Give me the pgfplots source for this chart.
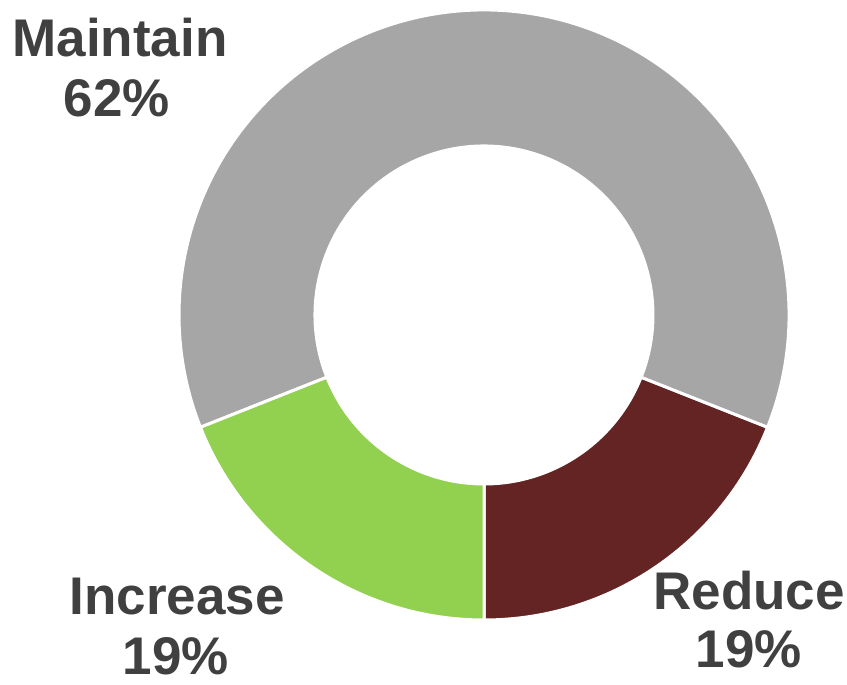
\documentclass[border=0pt]{standalone}
\usepackage{pgfplots}
\pgfplotsset{compat=1.18}
\usepackage{fontspec}
\setmainfont{Liberation Sans}

\definecolor{cMaintain}{HTML}{A6A6A6}
\definecolor{cReduce}{HTML}{632423}
\definecolor{cIncrease}{HTML}{92D050}
\definecolor{cText}{HTML}{404040}

% one ring sector: start angle, share in percent, colour
\newcommand{\slice}[3]{%
  \fill[#3, draw=white, line width=1.5pt]
    ([shift={({#1}:152.5pt)}]axis cs:484,370)
    arc[start angle={#1}, delta angle={#2*3.6}, radius=152.5pt]
    -- ([shift={({#1+#2*3.6}:84.5pt)}]axis cs:484,370)
    arc[start angle={#1+#2*3.6}, delta angle={-#2*3.6}, radius=84.5pt]
    -- cycle;
}

\begin{document}
\begin{tikzpicture}[lbl/.style={text=cText, anchor=base, inner sep=0pt,
      font=\fontsize{26.5}{30}\selectfont\bfseries}]
\begin{axis}[
    x=0.5pt, y=0.5pt,
    xmin=0, xmax=847, ymin=0, ymax=685,
    scale only axis, hide axis, clip=false]
  \coordinate (bl) at (axis cs:0,0);
  \coordinate (tr) at (axis cs:847,685);
  % Reduce 19, Maintain 62, Increase 19 (counter-clockwise from the bottom)
  \slice{-90}{19}{cReduce}
  \slice{-90+19*3.6}{62}{cMaintain}
  \slice{-90+81*3.6}{19}{cIncrease}

  \node[lbl] at (axis cs:120,628) {Maintain};
  \node[lbl] at (axis cs:117,568) {62\%};
  \node[lbl] at (axis cs:177,70) {Increase};
  \node[lbl] at (axis cs:176,10) {19\%};
  \node[lbl] at (axis cs:749,75) {Reduce};
  \node[lbl] at (axis cs:749,17) {19\%};
\end{axis}
\pgfresetboundingbox
\path (bl) rectangle (tr);
\end{tikzpicture}
\end{document}
